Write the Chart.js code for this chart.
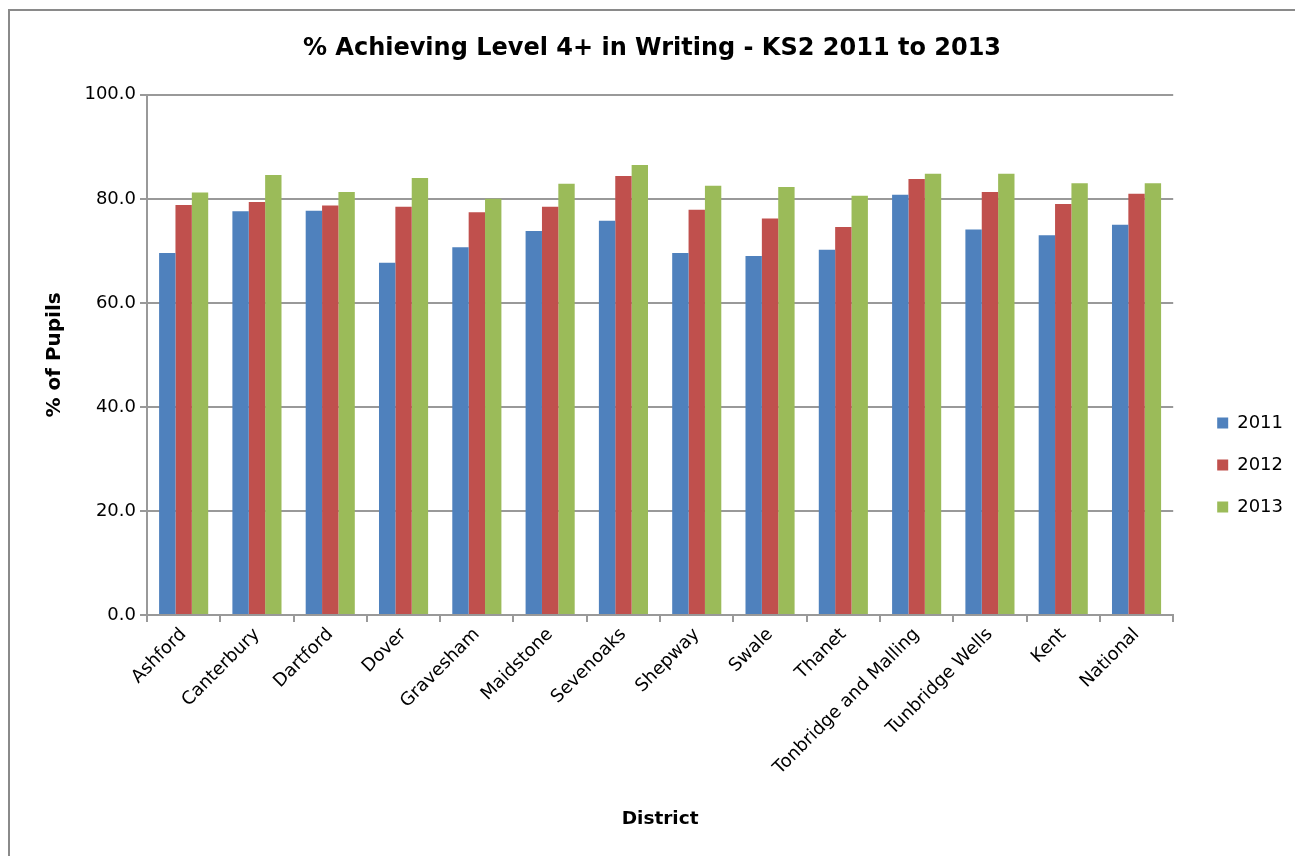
<!DOCTYPE html>
<html>
<head>
<meta charset="utf-8">
<script src="https://cdn.jsdelivr.net/npm/chart.js@4"></script>
<style>
  html, body { margin: 0; padding: 0; background: #fff; overflow: hidden; }
  #wrap { position: relative; width: 1295px; height: 856px; overflow: hidden; }
  #frame { position: absolute; left: 8px; top: 9px; width: 1400px; height: 1000px;
           border: 2px solid #8a8a8a; box-sizing: border-box; pointer-events: none; }
</style>
</head>
<body>
<div id="wrap">
  <canvas id="grafico" width="1295" height="856"></canvas>
  <div id="frame"></div>
</div>
<script>
// === DATI ===
const districts = ['Ashford', 'Canterbury', 'Dartford', 'Dover', 'Gravesham', 'Maidstone', 'Sevenoaks',
  'Shepway', 'Swale', 'Thanet', 'Tonbridge and Malling', 'Tunbridge Wells', 'Kent', 'National'];
const years = ['2011', '2012', '2013'];
const val2011 = [69.6, 77.6, 77.7, 67.7, 70.7, 73.8, 75.8, 69.6, 69.0, 70.2, 80.8, 74.1, 73.0, 75.0];
const val2012 = [78.8, 79.4, 78.7, 78.5, 77.4, 78.5, 84.4, 77.9, 76.2, 74.6, 83.8, 81.3, 79.0, 81.0];
const val2013 = [81.2, 84.6, 81.3, 84.0, 80.0, 82.9, 86.5, 82.5, 82.3, 80.6, 84.8, 84.8, 83.0, 83.0];
const yTicks = [0, 20, 40, 60, 80, 100];
const colori = ['#4F81BD', '#C0504D', '#9BBB59'];

const FONT = "'DejaVu Sans', Verdana, sans-serif";
const gridColor = '#999999';

// sposta legenda e titolo come nell'originale Excel
const spostaBlocchi = {
  id: 'spostaBlocchi',
  afterLayout(chart) {
    const lg = chart.legend;
    if (lg) {
      lg.left += 20; lg.right += 20;
      lg.top += 37; lg.bottom += 37;
    }
    const tb = chart.titleBlock;
    if (tb) { tb.left -= 6; tb.right -= 6; }
  }
};

const ctx = document.getElementById('grafico').getContext('2d');
new Chart(ctx, {
  type: 'bar',
  data: {
    labels: districts,
    datasets: [val2011, val2012, val2013].map((d, i) => ({
      label: years[i],
      data: d,
      backgroundColor: colori[i],
      borderWidth: 0,
      categoryPercentage: 0.67,
      barPercentage: 1.0
    }))
  },
  options: {
    responsive: false,
    animation: false,
    layout: { padding: { left: 43, right: 22, top: 20, bottom: 20 } },
    plugins: {
      title: {
        display: true,
        text: '% Achieving Level 4+ in Writing - KS2 2011 to 2013',
        color: '#000',
        font: { family: FONT, size: 24, weight: 'bold' },
        padding: { top: 14, bottom: 32 }
      },
      legend: {
        position: 'right',
        labels: {
          color: '#000',
          font: { family: FONT, size: 18 },
          boxWidth: 11,
          boxHeight: 11,
          padding: 24
        }
      },
      tooltip: { enabled: false }
    },
    scales: {
      x: {
        grid: { display: true, drawOnChartArea: false, color: gridColor, lineWidth: 2, tickLength: 7, offset: true },
        border: { color: gridColor, width: 2 },
        ticks: {
          color: '#000',
          font: { family: FONT, size: 18 },
          minRotation: 45,
          maxRotation: 45,
          autoSkip: false,
          padding: 2
        },
        title: {
          display: true,
          text: 'District',
          color: '#000',
          font: { family: FONT, size: 18.5, weight: 'bold' },
          padding: { top: 4, bottom: 6 }
        },
        afterFit: s => { s.height = 856 - 615 - 20; }
      },
      y: {
        min: 0,
        max: 100,
        afterBuildTicks: s => { s.ticks = yTicks.map(v => ({ value: v })); },
        grid: { color: gridColor, lineWidth: 2, tickLength: 7 },
        border: { color: gridColor, width: 2 },
        ticks: {
          color: '#000',
          font: { family: FONT, size: 18 },
          padding: 4,
          callback: v => Number(v).toFixed(1)
        },
        title: {
          display: true,
          text: '% of Pupils',
          color: '#000',
          font: { family: FONT, size: 20, weight: 'bold' },
          padding: { top: 0, bottom: 0 }
        },
        afterFit: s => { s.width = 147 - 43; }
      }
    }
  },
  plugins: [spostaBlocchi]
});
</script>
</body>
</html>
